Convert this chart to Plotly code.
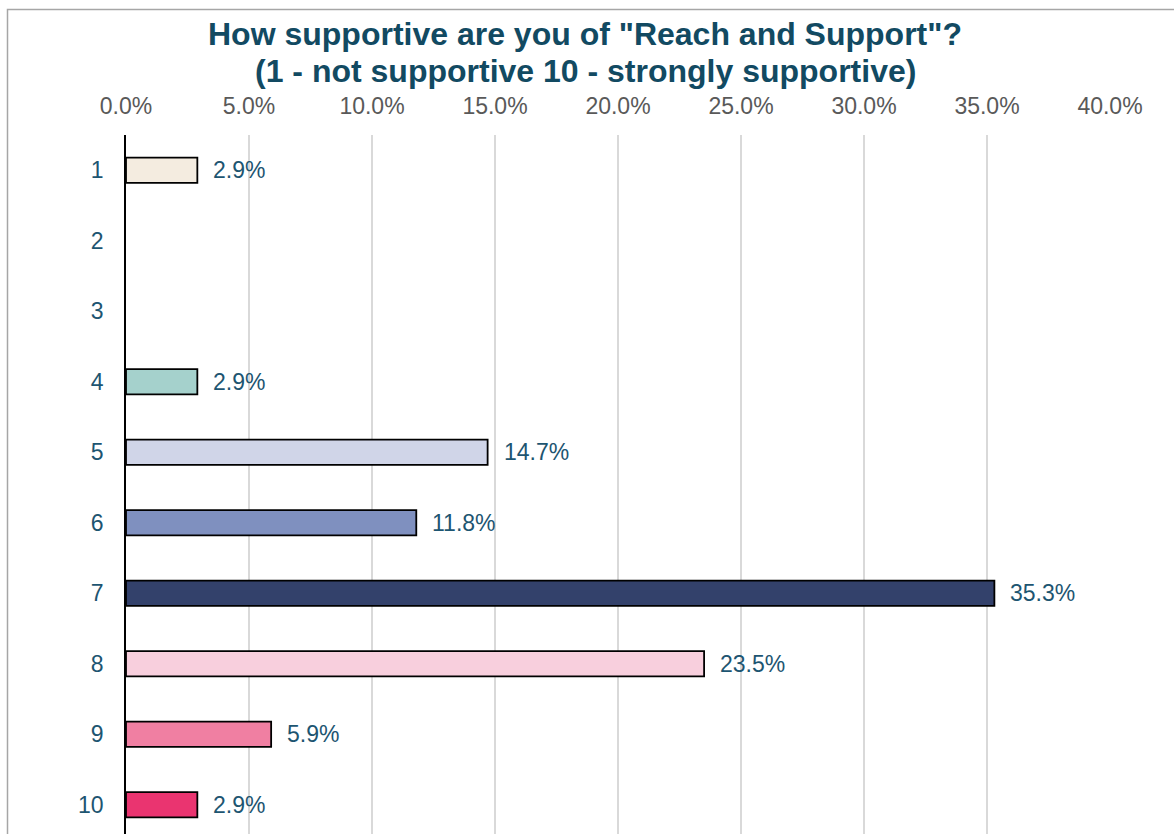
import plotly.graph_objects as go

# Survey responses: share of respondents at each support level
levels = ["1", "2", "3", "4", "5", "6", "7", "8", "9", "10"]
shares = [2.9, 0.0, 0.0, 2.9, 14.7, 11.8, 35.3, 23.5, 5.9, 2.9]
bar_colors = ["#F4ECE0", "#F4ECE0", "#F4ECE0", "#A5D1CC", "#D0D5E8",
              "#7F90BF", "#33416B", "#F8CFDD", "#F07FA2", "#EA3470"]
x_ticks = [0, 5, 10, 15, 20, 25, 30, 35, 40]
x_tick_labels = ["0.0%", "5.0%", "10.0%", "15.0%", "20.0%",
                 "25.0%", "30.0%", "35.0%", "40.0%"]

title_lines = ['How supportive are you of "Reach and Support"?',
               '(1 - not supportive 10 - strongly supportive)']

FONT = "Liberation Sans, Arial, sans-serif"
TEAL = "#124A62"
LABEL = "#1D5571"

W, H = 1174, 834
M_L, M_R, M_T, M_B = 126, 64, 135, 0
PLOT_W = W - M_L - M_R
PLOT_H = H - M_T - M_B


def px_x(px):
    """Convert a pixel column to paper x."""
    return (px - M_L) / PLOT_W


def py(px):
    """Convert a pixel row (from the top) to paper y."""
    return 1 + (M_T - px) / PLOT_H


fig = go.Figure()
fig.add_trace(go.Bar(
    x=shares,
    y=levels,
    orientation="h",
    width=0.36,
    marker=dict(color=bar_colors,
                line=dict(color="#000000",
                          width=[1.8 if v > 0 else 0 for v in shares])),
    hoverinfo="skip",
))

# Value labels beside each non-empty bar
for i, v in enumerate(shares):
    if v > 0:
        fig.add_annotation(
            x=v, y=i, text=f"{v:.1f}%", showarrow=False,
            xanchor="left", yanchor="middle", xshift=14,
            font=dict(family=FONT, size=23, color=LABEL),
        )

# Two-line bold title
for line, row in zip(title_lines, [34, 71]):
    fig.add_annotation(
        x=px_x(585), xref="paper", xanchor="center",
        y=py(row), yref="paper", yanchor="middle",
        text=f"<b>{line}</b>", showarrow=False,
        font=dict(family=FONT, size=32, color=TEAL),
    )

# Outer frame around the chart
fig.add_shape(
    type="rect", xref="paper", yref="paper",
    x0=px_x(7.5), x1=1.08,
    y0=-0.05, y1=py(9.5),
    line=dict(color="#A6A6A6", width=1.5), fillcolor="rgba(0,0,0,0)",
    layer="above",
)

fig.update_layout(
    width=W, height=H,
    margin=dict(l=M_L, r=M_R, t=M_T, b=M_B, pad=0),
    paper_bgcolor="white", plot_bgcolor="white",
    showlegend=False,
    xaxis=dict(
        side="top", range=[0, 40], tickvals=x_ticks, ticktext=x_tick_labels,
        showgrid=True, gridcolor="#D9D9D9", gridwidth=1.5,
        zeroline=False, showline=False, ticks="",
        ticklabelstandoff=15,
        tickfont=dict(family=FONT, size=23, color="#595959"),
    ),
    yaxis=dict(
        type="category", categoryorder="array", categoryarray=levels,
        range=[9.415, -0.5],
        showgrid=False, zeroline=False,
        showline=True, linecolor="#000000", linewidth=1.5,
        ticks="", ticklabelstandoff=16,
        tickfont=dict(family=FONT, size=23, color=LABEL),
    ),
)

fig.write_html("out.html")
